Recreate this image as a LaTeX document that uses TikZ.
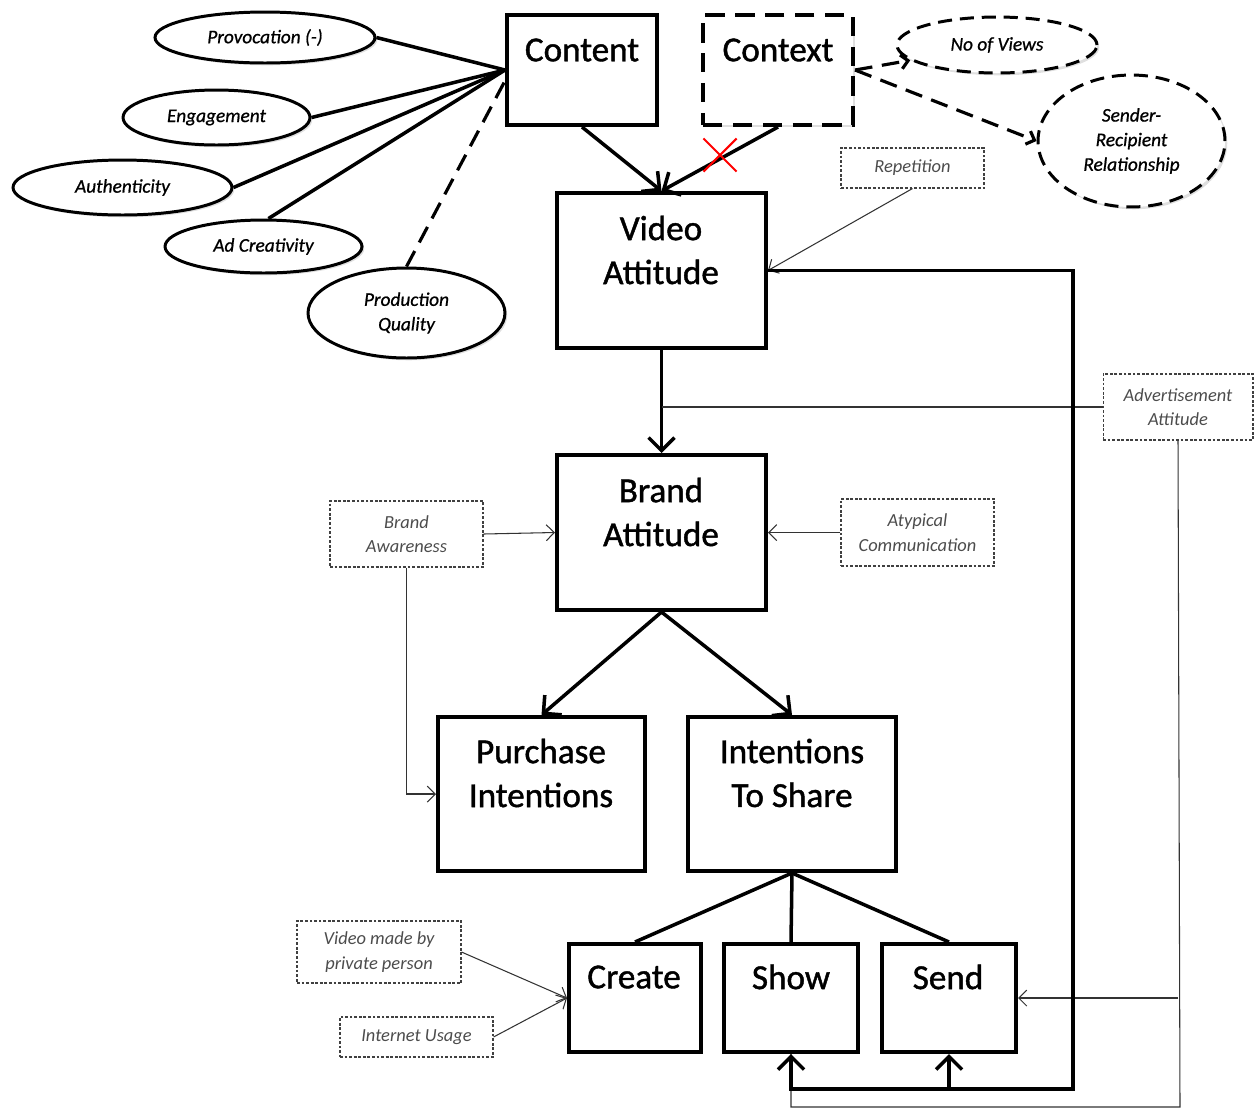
\documentclass[tikz,border=0pt]{standalone}
\usepackage{fontspec}
\setmainfont{Carlito}
\newfontfamily\heavy{Carlito}[FakeBold=1.2]
\newfontfamily\semi{Carlito}[FakeBold=0.8]
\usetikzlibrary{arrows.meta,shapes.geometric,shapes.misc,shadows}
\begin{document}
\begin{tikzpicture}[x=0.02cm,y=-0.02cm,
  shd/.style={drop shadow={opacity=0.25,shadow xshift=1.3pt,shadow yshift=-1.3pt}},
  mainbox/.style={draw,line width=2.3pt,fill=white,inner sep=0pt,shd},
  ctxbox/.style={draw,line width=2.3pt,fill=white,inner sep=0pt,dash pattern=on 11pt off 6pt,shd},
  maintxt/.style={font=\heavy\fontsize{20}{25}\selectfont,align=center,inner sep=0pt},
  ell/.style={ellipse,draw,line width=1.7pt,fill=white,inner sep=0pt,align=center,
    font=\semi\itshape\fontsize{11}{14}\selectfont,shd},
  dell/.style={ell,dash pattern=on 8pt off 4.5pt},
  factor/.style={draw=black!75,line width=0.6pt,dash pattern=on 1.6pt off 1pt,inner sep=0pt,
    align=center,text=black!70,font=\fontsize{10.5}{14}\selectfont\itshape},
  thickline/.style={line width=2pt},
  thickarrow/.style={line width=2pt,-{Straight Barb[length=2.6mm,width=5.2mm]}},
  thinline/.style={line width=0.6pt,black!80},
  thinarrow/.style={line width=0.6pt,black!80,-{Straight Barb[length=1.6mm,width=3.2mm]}},
  dashline/.style={line width=1.8pt,dash pattern=on 10pt off 5.5pt},
]
\useasboundingbox (0,0) rectangle (1254,1110);

% main boxes
\node[mainbox,minimum width=3cm,minimum height=2.2cm] (content) at (582,70) {};
\node[ctxbox,minimum width=3cm,minimum height=2.2cm] (context) at (778,70) {};
\node[mainbox,minimum width=4.18cm,minimum height=3.1cm] (video) at (661.5,270.5) {};
\node[mainbox,minimum width=4.18cm,minimum height=3.1cm] (brand) at (661.5,532.5) {};
\node[mainbox,minimum width=4.14cm,minimum height=3.08cm] (purchase) at (541.5,794) {};
\node[mainbox,minimum width=4.16cm,minimum height=3.08cm] (share) at (792,794) {};
\node[mainbox,minimum width=2.64cm,minimum height=2.16cm] (create) at (635,998) {};
\node[mainbox,minimum width=2.68cm,minimum height=2.16cm] (show) at (791,998) {};
\node[mainbox,minimum width=2.68cm,minimum height=2.16cm] (send) at (949,998) {};

\node[maintxt] (contentT) at (582,50) {Content};
\node[maintxt] (contextT) at (778,50) {Context};
\node[maintxt] (videoT) at (661,250) {Video\\Attitude};
\node[maintxt] (brandT) at (661,512) {Brand\\Attitude};
\node[maintxt] (purchaseT) at (541,773) {Purchase\\Intentions};
\node[maintxt] (shareT) at (792,773) {Intentions\\To Share};
\node[maintxt] (createT) at (634,977) {Create};
\node[maintxt] (showT) at (791,977) {Show};
\node[maintxt] (sendT) at (948,977) {Send};

% ellipses
\node[ell,minimum width=4.4cm,minimum height=1.02cm] (prov) at (265,37.5) {Provocation (-)};
\node[ell,minimum width=3.74cm,minimum height=1.1cm] (eng) at (216.5,117.5) {Engagement};
\node[ell,minimum width=4.38cm,minimum height=1.1cm] (auth) at (122.5,187.5) {Authenticity};
\node[ell,minimum width=3.94cm,minimum height=1.06cm] (adc) at (263.5,246.5) {Ad Creativity};
\node[ell,minimum width=3.94cm,minimum height=1.8cm] (prod) at (406.5,313) {Production\\Quality};
\node[dell,minimum width=4.0cm,minimum height=1.12cm] (views) at (997,45) {No of Views};
\node[dell,minimum width=3.74cm,minimum height=2.64cm] (sender) at (1131.5,141) {Sender-\\Recipient\\Relationship};

% factor boxes
\node[factor,minimum width=2.86cm,minimum height=0.8cm] (rep) at (912.5,168) {Repetition};
\node[factor,minimum width=3.0cm,minimum height=1.32cm] (adv) at (1178,407) {Advertisement\\Attitude};
\node[factor,minimum width=3.06cm,minimum height=1.32cm] (aware) at (406.5,534) {Brand\\Awareness};
\node[factor,minimum width=3.06cm,minimum height=1.34cm] (atyp) at (917.5,532.5) {Atypical\\Communication};
\node[factor,minimum width=3.28cm,minimum height=1.24cm] (priv) at (379,952) {Video made by\\private person};
\node[factor,minimum width=3.06cm,minimum height=0.8cm] (inet) at (416.5,1037) {Internet Usage};

% ellipse connectors to content
\draw[thickline] (prov.east) -- (content.west);
\draw[thickline] (eng.east) -- (content.west);
\draw[thickline] (auth.east) -- (content.west);
\draw[thickline] (adc.80) -- (content.west);
\draw[dashline] (prod.north) -- (content.188);

% context connectors
\draw[dashline,-{Straight Barb[length=1.4mm,width=2.8mm]}] (context.east) -- (views.190);
\draw[dashline,-{Straight Barb[length=1.4mm,width=2.8mm]}] (context.east) -- (sender.west);

% into video attitude
\draw[thickarrow] (content.south) -- (video.north);
\draw[thickarrow] (context.south) -- (video.north);
\node[cross out,draw=red,line width=1.2pt,minimum size=0.62cm,inner sep=0pt] (redx) at (720,155) {};
\draw[thinarrow] (rep.south) -- (video.east);

% main chain
\draw[thickarrow] (video.south) -- (brand.north);
\draw[thickarrow] (brand.south) -- (purchase.north);
\draw[thickarrow] (brand.south) -- (share.north);
\draw[thickline] (share.south) -- (create.north);
\draw[thickline] (share.south) -- (show.north);
\draw[thickline] (share.south) -- (send.north);

% factor arrows
\draw[thinarrow] (aware.east) -- (brand.west);
\draw[thinarrow] (atyp.west) -- (brand.east);
\draw[thinarrow] (aware.south) |- (purchase.west);
\draw[thinarrow] (priv.east) -- (create.west);
\draw[thinarrow] (inet.east) -- (create.west);

% advertisement attitude
\coordinate (advbot) at (1180,1107);
\draw[thinline] (adv.west) -- (adv.west -| video.south);
\draw[thinline] (adv.south) -- (advbot) -| (show.south);
\draw[thinarrow] (adv.south |- send.east) -- (send.east);

% feedback loop
\coordinate (loopR) at (1073,1089);
\draw[thickarrow] (video.east) -| (loopR) -| (show.south);
\draw[thickarrow] (send.south |- loopR) -- (send.south);
\end{tikzpicture}
\end{document}
